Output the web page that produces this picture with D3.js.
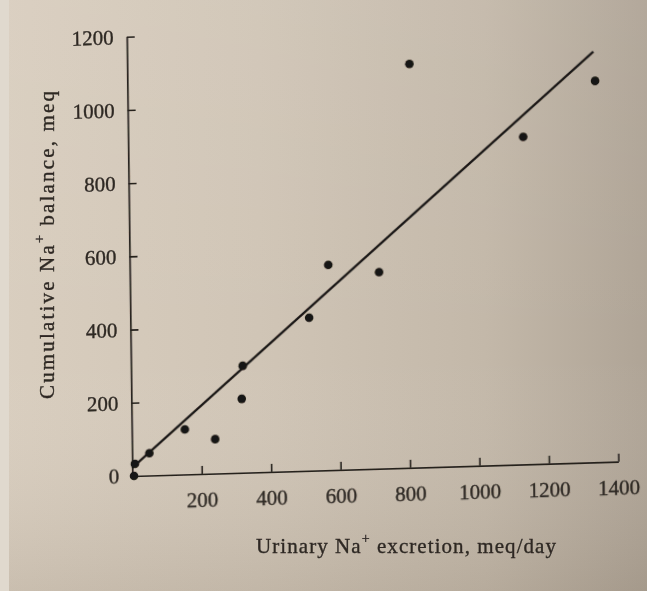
<!DOCTYPE html>
<html>
<head>
<meta charset="utf-8">
<script src="https://cdn.jsdelivr.net/npm/d3@7/dist/d3.min.js"></script>
<style>
  html, body { margin: 0; padding: 0; background: #cbbfb0; }
  svg { display: block; }
  text { font-family: "Liberation Serif", "DejaVu Serif", serif; fill: #2e2924; stroke: #2e2924; stroke-width: 0.35px; }
</style>
</head>
<body>
<svg id="chart" width="647" height="591"></svg>
<script>
// ---- data ----
const urinaryNa = [5, 8, 50, 153, 240, 318, 322, 515, 572, 718, 813, 1138, 1347];
const cumulativeBalance = [0, 33, 61, 123, 94, 202, 292, 418, 561, 537, 1103, 895, 1042];
const fitX = [0, 1343];
const fitY = [22, 1122];
const xTicks = [200, 400, 600, 800, 1000, 1200, 1400];
const yTicks = [0, 200, 400, 600, 800, 1000, 1200];
const xTitle = ["Urinary Na", "+", " excretion, meq/day"];
const yTitle = ["Cumulative Na", "+", " balance, meq"];

// ---- layout ----
const W = 647, H = 591;
const ox = 132.3, oy = 476;
const svg = d3.select("#chart");

const defs = svg.append("defs");
const gh = defs.append("linearGradient").attr("id", "bgH").attr("x1", 0).attr("x2", 1).attr("y1", 0).attr("y2", 0);
[["0%", "#d9cebf"], ["40%", "#d0c5b6"], ["75%", "#c3b8a9"], ["100%", "#afa496"]]
  .forEach(([o, c]) => gh.append("stop").attr("offset", o).attr("stop-color", c));
const gv = defs.append("linearGradient").attr("id", "bgV").attr("x1", 0).attr("x2", 0).attr("y1", 0).attr("y2", 1);
[["0%", "#ffffff", 0.05], ["60%", "#ffffff", 0], ["100%", "#5a4c3c", 0.12]]
  .forEach(([o, c, a]) => gv.append("stop").attr("offset", o).attr("stop-color", c).attr("stop-opacity", a));
defs.append("filter").attr("id", "soft").append("feGaussianBlur").attr("stdDeviation", 0.55);

svg.append("rect").attr("width", W).attr("height", H).attr("fill", "url(#bgH)");
svg.append("rect").attr("width", W).attr("height", H).attr("fill", "url(#bgV)");
svg.append("rect").attr("width", 9).attr("height", H).attr("fill", "#e0d9ce");

const root = svg.append("g").attr("filter", "url(#soft)");

// slight tilt of the photographed page
const plot = root.append("g")
  .attr("transform", `translate(${ox},${oy}) matrix(1,-0.0294,0.0127,1,0,0) translate(${-ox},${-oy})`);

const x = d3.scaleLinear().domain([0, 1400]).range([ox, ox + 7 * 69.43]);
const y = d3.scaleLinear().domain([0, 1200]).range([oy, oy - 6 * 73.2]);

const fmt = d3.format("d");
const xAxis = d3.axisBottom(x).tickValues(xTicks).tickFormat(fmt).tickSizeInner(-8).tickSizeOuter(0).tickPadding(18);
const yAxis = d3.axisLeft(y).tickValues(yTicks).tickFormat(fmt).tickSizeInner(-8).tickSizeOuter(0).tickPadding(13);

const gx = plot.append("g").attr("transform", `translate(0,${oy})`).call(xAxis);
const gy = plot.append("g").attr("transform", `translate(${ox},0)`).call(yAxis);
[gx, gy].forEach(g => {
  g.select(".domain").attr("stroke", "#27231f").attr("stroke-width", 1.7);
  g.selectAll(".tick line").attr("stroke", "#27231f").attr("stroke-width", 1.6);
  g.selectAll(".tick text").attr("font-size", 21)
    .attr("font-family", "'Liberation Serif', serif").attr("fill", "#2e2924");
});
gy.selectAll(".tick").filter(d => d === 0).select("line").remove();

// regression line
plot.append("path")
  .datum(fitX.map((v, i) => [v, fitY[i]]))
  .attr("d", d3.line().x(d => x(d[0])).y(d => y(d[1])))
  .attr("fill", "none").attr("stroke", "#1a1715").attr("stroke-width", 2.3);

// points
plot.selectAll("circle.pt")
  .data(urinaryNa.map((v, i) => [v, cumulativeBalance[i]]))
  .join("circle").attr("class", "pt")
  .attr("cx", d => x(d[0])).attr("cy", d => y(d[1])).attr("r", 4.3)
  .attr("fill", "#171412");

// axis titles
const xt = root.append("text").attr("x", 406).attr("y", 553).attr("text-anchor", "middle")
  .attr("font-size", 21).attr("textLength", 300).attr("lengthAdjust", "spacing");
xt.append("tspan").text(xTitle[0]);
xt.append("tspan").attr("font-size", 14).attr("dy", -10).text(xTitle[1]);
xt.append("tspan").attr("dy", 10).text(xTitle[2]);

const yt = root.append("text").attr("transform", "translate(54,245) rotate(-90)")
  .attr("text-anchor", "middle").attr("font-size", 21)
  .attr("textLength", 308).attr("lengthAdjust", "spacing");
yt.append("tspan").text(yTitle[0]);
yt.append("tspan").attr("font-size", 14).attr("dy", -10).text(yTitle[1]);
yt.append("tspan").attr("dy", 10).text(yTitle[2]);
</script>
</body>
</html>
